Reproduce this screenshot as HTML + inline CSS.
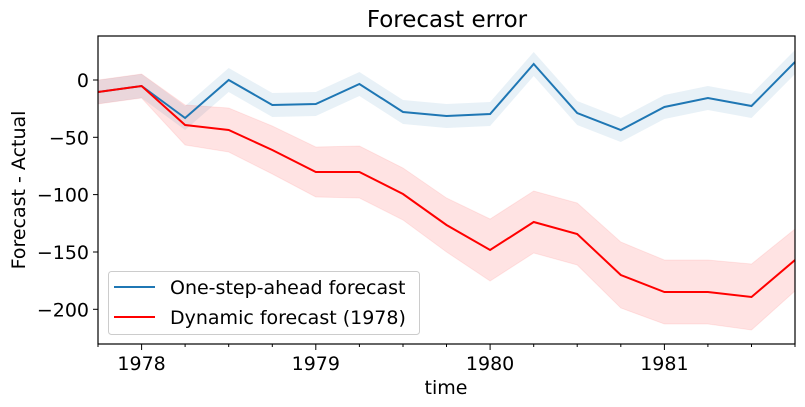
<!DOCTYPE html>
<html><head><meta charset="utf-8"><style>body{margin:0;background:#fff}svg{display:block}text{font-family:"DejaVu Sans","Liberation Sans",sans-serif;fill:#000}</style></head><body>
<svg width="805" height="407" viewBox="0 0 805 407">
<defs><clipPath id="c"><rect x="98" y="36" width="697" height="308"/></clipPath></defs>
<g clip-path="url(#c)">
<polygon fill="#1f77b4" fill-opacity="0.1" points="98,80 141.6,74 185.1,106 228.7,68 272.3,93 315.8,92 359.4,72 403,100 446.5,104 490.1,102 533.7,52 577.2,101 620.8,118 664.4,95 707.9,86 751.5,94 795,50 795,74 751.5,118 707.9,110 664.4,119 620.8,142 577.2,125 533.7,76 490.1,126 446.5,128 403,124 359.4,96 315.8,116 272.3,117 228.7,92 185.1,130 141.6,98 98,104"/>
<polygon fill="#ff0000" fill-opacity="0.11" stroke="#ff0000" stroke-opacity="0.08" points="98,80 141.6,74 185.1,105 228.7,108 272.3,126 315.8,147 359.4,146 403,168 446.5,198 490.1,219 533.7,191 577.2,203 620.8,242 664.4,260 707.9,260 751.5,264 795,229 795,291 751.5,330 707.9,324 664.4,324 620.8,308 577.2,265 533.7,253 490.1,281 446.5,252 403,220 359.4,198 315.8,197 272.3,174 228.7,152 185.1,145 141.6,98 98,104"/>
<polyline fill="none" stroke="#1f77b4" stroke-width="2" points="98,92 141.6,86 185.1,118 228.7,80 272.3,105 315.8,104 359.4,84 403,112 446.5,116 490.1,114 533.7,64 577.2,113 620.8,130 664.4,107 707.9,98 751.5,106 795,62"/>
<polyline fill="none" stroke="#ff0000" stroke-width="2" points="98,92 141.6,86 185.1,125 228.7,130 272.3,150 315.8,172 359.4,172 403,194 446.5,225 490.1,250 533.7,222 577.2,234 620.8,275 664.4,292 707.9,292 751.5,297 795,260"/>
</g>
<rect x="98" y="36" width="697" height="308" fill="none" stroke="#000" stroke-width="1.2"/>
<g stroke="#000" stroke-width="1">
<line x1="93" y1="80" x2="98" y2="80"/><line x1="93" y1="137.3" x2="98" y2="137.3"/><line x1="93" y1="194.6" x2="98" y2="194.6"/><line x1="93" y1="252" x2="98" y2="252"/><line x1="93" y1="309.3" x2="98" y2="309.3"/>
<line x1="141.6" y1="344" x2="141.6" y2="350"/><line x1="315.8" y1="344" x2="315.8" y2="350"/><line x1="490.1" y1="344" x2="490.1" y2="350"/><line x1="664.4" y1="344" x2="664.4" y2="350"/>
<line x1="185.1" y1="344" x2="185.1" y2="347"/><line x1="228.7" y1="344" x2="228.7" y2="347"/><line x1="272.3" y1="344" x2="272.3" y2="347"/><line x1="359.4" y1="344" x2="359.4" y2="347"/><line x1="403" y1="344" x2="403" y2="347"/><line x1="446.5" y1="344" x2="446.5" y2="347"/><line x1="533.7" y1="344" x2="533.7" y2="347"/><line x1="577.2" y1="344" x2="577.2" y2="347"/><line x1="620.8" y1="344" x2="620.8" y2="347"/><line x1="707.9" y1="344" x2="707.9" y2="347"/><line x1="751.5" y1="344" x2="751.5" y2="347"/><line x1="98" y1="344" x2="98" y2="347"/><line x1="795" y1="344" x2="795" y2="347"/>
</g>
<g font-size="19" text-anchor="end">
<text x="89" y="87">0</text><text x="89" y="144.3">−50</text><text x="89" y="201.6">−100</text><text x="89" y="259">−150</text><text x="89" y="316.3">−200</text>
</g>
<g font-size="19" text-anchor="middle">
<text x="141.6" y="370">1978</text><text x="315.8" y="370">1979</text><text x="490.1" y="370">1980</text><text x="664.4" y="370">1981</text>
<text x="446" y="394">time</text>
<text x="447" y="27" font-size="23">Forecast error</text>
<text transform="translate(25,190) rotate(-90)">Forecast - Actual</text>
</g>
<rect x="108.5" y="271.5" width="311" height="63" rx="3" fill="#fff" fill-opacity="0.8" stroke="#ccc"/>
<line x1="114" y1="287" x2="155" y2="287" stroke="#1f77b4" stroke-width="2"/>
<line x1="114" y1="317" x2="155" y2="317" stroke="#ff0000" stroke-width="2"/>
<text x="170" y="294" font-size="19">One-step-ahead forecast</text>
<text x="170" y="324" font-size="19">Dynamic forecast (1978)</text>
</svg>
</body></html>
